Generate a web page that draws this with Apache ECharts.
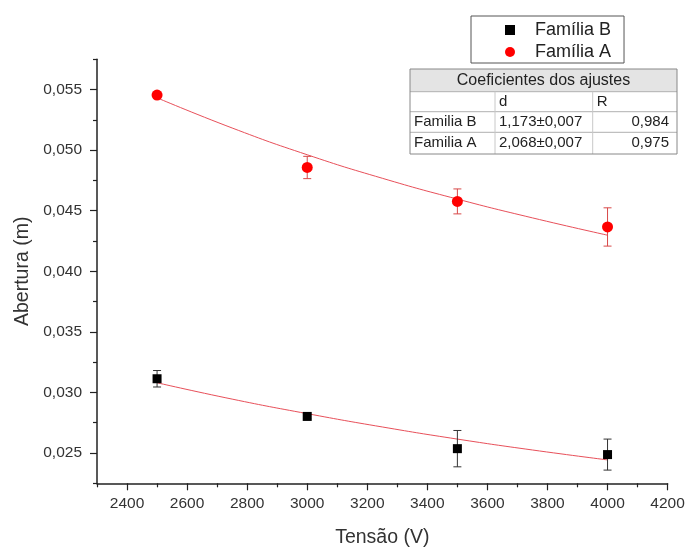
<!DOCTYPE html>
<html>
<head>
<meta charset="utf-8">
<script src="https://cdn.jsdelivr.net/npm/echarts@6/dist/echarts.min.js"></script>
<style>html,body{margin:0;padding:0;background:#fff}#c{width:685px;height:548px}</style>
</head>
<body>
<div id="c"></div>
<script>
// ---- data ----
const xValues = [2500, 3000, 3500, 4000];
const famB = [0.03113, 0.02802, 0.02536, 0.02487];
const famBErr = [0.00068, 0.00020, 0.00150, 0.00128];
const famA = [0.05455, 0.04857, 0.04577, 0.04366];
const famAErr = [0.00020, 0.00092, 0.00103, 0.00158];
const fitX = [2500, 2750, 3000, 3250, 3500, 3750, 4000];
const fitA = [0.05432, 0.05183, 0.04962, 0.04768, 0.04596, 0.04441, 0.04298];
const fitB = [0.03080, 0.02945, 0.02825, 0.02715, 0.02615, 0.02525, 0.02443];
const xMajorTicks = [2400, 2600, 2800, 3000, 3200, 3400, 3600, 3800, 4000, 4200];
const xMinorTicks = [2300, 2500, 2700, 2900, 3100, 3300, 3500, 3700, 3900, 4100];
const yMajorTicks = [0.025, 0.030, 0.035, 0.040, 0.045, 0.050, 0.055];
const yMinorTicks = [0.0225, 0.0275, 0.0325, 0.0375, 0.0425, 0.0475, 0.0525, 0.0575];
const tableTitle = 'Coeficientes dos ajustes';
const tableHeader = ['', 'd', 'R'];
const tableRows = [
  ['Familia B', '1,173\u00b10,007', '0,984'],
  ['Familia A', '2,068\u00b10,007', '0,975']
];

const chart = echarts.init(document.getElementById('c'));

const pair = (xs, ys) => xs.map((x, i) => [x, ys[i]]);
const errData = (ys, es) => xValues.map((x, i) => [x, ys[i], es[i]]);

function errRender(color) {
  return function (params, api) {
    const x = api.value(0), y = api.value(1), e = api.value(2);
    const t = api.coord([x, y + e]);
    const b = api.coord([x, y - e]);
    const hw = 4;
    const st = { stroke: color, lineWidth: 1 };
    return {
      type: 'group',
      children: [
        { type: 'line', shape: { x1: t[0], y1: t[1], x2: b[0], y2: b[1] }, style: st },
        { type: 'line', shape: { x1: t[0] - hw, y1: t[1], x2: t[0] + hw, y2: t[1] }, style: st },
        { type: 'line', shape: { x1: b[0] - hw, y1: b[1], x2: b[0] + hw, y2: b[1] }, style: st }
      ]
    };
  };
}

// table graphic
const tL = 410, tR = 677, tT = 69;
const rowB = [91.7, 111.7, 132.3, 154];
const colX = [410, 495, 592.7, 677];
const tableEls = [];
tableEls.push({ type: 'rect', shape: { x: tL, y: tT, width: tR - tL, height: rowB[0] - tT }, style: { fill: '#e4e4e4' } });
for (let i = 0; i < rowB.length - 1; i++) {
  tableEls.push({ type: 'line', shape: { x1: tL, y1: rowB[i], x2: tR, y2: rowB[i] }, style: { stroke: '#b0b0b0', lineWidth: 1 } });
}
[1, 2].forEach(c => {
  tableEls.push({ type: 'line', shape: { x1: colX[c], y1: rowB[0], x2: colX[c], y2: rowB[3] }, style: { stroke: '#c8c8c8', lineWidth: 1 } });
});
tableEls.push({ type: 'rect', shape: { x: tL, y: tT, width: tR - tL, height: rowB[3] - tT }, style: { fill: 'none', stroke: '#888', lineWidth: 1 } });
tableEls.push({ type: 'text', x: (tL + tR) / 2, y: (tT + rowB[0]) / 2, style: { text: tableTitle, fontSize: 16, fontFamily: 'Liberation Sans, Arial', fill: '#222', align: 'center', verticalAlign: 'middle' } });
const allRows = [tableHeader].concat(tableRows);
allRows.forEach((r, ri) => {
  const cy = (rowB[ri] + rowB[ri + 1]) / 2;
  r.forEach((txt, ci) => {
    if (!txt) return;
    const rightAlign = ci === 2 && ri > 0;
    tableEls.push({
      type: 'text',
      x: rightAlign ? colX[3] - 8 : colX[ci] + 4,
      y: cy,
      style: { text: txt, fontSize: 15, fontFamily: 'Liberation Sans, Arial', fill: '#222', align: rightAlign ? 'right' : 'left', verticalAlign: 'middle' }
    });
  });
});

const font = 'Liberation Sans, Arial, sans-serif';
const grid = { left: 97, right: 17.4, top: 59.3, bottom: 64.7, outerBoundsMode: 'none' };

const option = {
  animation: false,
  backgroundColor: '#fff',
  grid: grid,
  legend: {
    orient: 'vertical',
    left: 471, top: 16,
    padding: [5, 13, 2, 34],
    itemGap: 4,
    itemWidth: 10, itemHeight: 10,
    borderColor: '#555', borderWidth: 1,
    textStyle: { fontSize: 18, fontFamily: font, color: '#222', lineHeight: 18, padding: [0, 0, 0, 15] },
    data: [
      { name: 'Família B', icon: 'rect' },
      { name: 'Família A', icon: 'circle' }
    ]
  },
  xAxis: [{
    type: 'value', min: 2300, max: 4200,
    name: 'Tensão (V)', nameLocation: 'middle', nameGap: 44,
    nameTextStyle: { fontSize: 19.5, fontFamily: font, color: '#333' },
    axisLine: { show: true, lineStyle: { color: '#222', width: 1.5 } },
    axisTick: { show: true, length: 7, customValues: xMajorTicks, lineStyle: { color: '#222', width: 1.2 } },
    axisLabel: { customValues: xMajorTicks, fontSize: 15.5, fontFamily: font, color: '#333', margin: 12,
      formatter: v => String(v) },
    splitLine: { show: false }
  }, {
    type: 'value', min: 2300, max: 4200, position: 'bottom', gridIndex: 0,
    axisLine: { show: false },
    axisTick: { show: true, length: 4, customValues: xMinorTicks, lineStyle: { color: '#222', width: 1.2 } },
    axisLabel: { show: false },
    splitLine: { show: false }
  }],
  yAxis: [{
    type: 'value', min: 0.0225, max: 0.0575,
    name: 'Abertura (m)', nameLocation: 'middle', nameGap: 62,
    nameTextStyle: { fontSize: 19.5, fontFamily: font, color: '#333' },
    axisLine: { show: true, lineStyle: { color: '#222', width: 1.5 } },
    axisTick: { show: true, length: 7, customValues: yMajorTicks, lineStyle: { color: '#222', width: 1.2 } },
    axisLabel: { customValues: yMajorTicks, fontSize: 15.5, fontFamily: font, color: '#333', margin: 15,
      formatter: v => v.toFixed(3).replace('.', ',') },
    splitLine: { show: false }
  }, {
    type: 'value', min: 0.0225, max: 0.0575, position: 'left', gridIndex: 0,
    axisLine: { show: false },
    axisTick: { show: true, length: 4, customValues: yMinorTicks, lineStyle: { color: '#222', width: 1.2 } },
    axisLabel: { show: false },
    splitLine: { show: false }
  }],
  series: [
    { name: 'fitB', type: 'line', data: pair(fitX, fitB), smooth: true, showSymbol: false, silent: true,
      lineStyle: { color: '#e8505a', width: 1 }, z: 1 },
    { name: 'fitA', type: 'line', data: pair(fitX, fitA), smooth: true, showSymbol: false, silent: true,
      lineStyle: { color: '#e8505a', width: 1 }, z: 1 },
    { name: 'errB', type: 'custom', renderItem: errRender('#333'), data: errData(famB, famBErr), z: 2 },
    { name: 'errA', type: 'custom', renderItem: errRender('#d84848'), data: errData(famA, famAErr), z: 2 },
    { name: 'Família B', type: 'scatter', symbol: 'rect', symbolSize: 9, data: pair(xValues, famB),
      itemStyle: { color: '#000', opacity: 1 }, z: 3 },
    { name: 'Família A', type: 'scatter', symbol: 'circle', symbolSize: 11, data: pair(xValues, famA),
      itemStyle: { color: '#f00', opacity: 1 }, z: 3 }
  ],
  graphic: tableEls
};
chart.setOption(option);
</script>
</body>
</html>
